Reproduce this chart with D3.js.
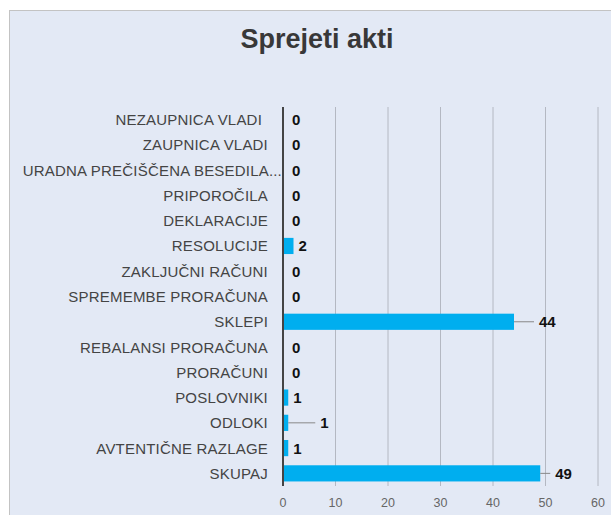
<!DOCTYPE html>
<html>
<head>
<meta charset="utf-8">
<script src="https://cdn.jsdelivr.net/npm/d3@7"></script>
<style>
  body { margin: 0; background: #fff; }
  svg { display: block; font-family: Arial, "Liberation Sans", sans-serif; }
</style>
</head>
<body>
<div id="root"></div>
<script>
// DATA
const categories = ["NEZAUPNICA VLADI", "ZAUPNICA VLADI", "URADNA PREČIŠČENA BESEDILA...",
  "PRIPOROČILA", "DEKLARACIJE", "RESOLUCIJE", "ZAKLJUČNI RAČUNI", "SPREMEMBE PRORAČUNA",
  "SKLEPI", "REBALANSI PRORAČUNA", "PRORAČUNI", "POSLOVNIKI", "ODLOKI", "AVTENTIČNE RAZLAGE", "SKUPAJ"];
const values = [0, 0, 0, 0, 0, 2, 0, 0, 44, 0, 0, 1, 1, 1, 49];
// label leader lines (length in px) for a few rows, like the original
const connectors = [0, 0, 0, 0, 0, 0, 0, 0, 20, 0, 0, 0, 27, 0, 10];
const xTicks = [0, 10, 20, 30, 40, 50, 60];

const W = 611, H = 515;
const plotL = 283, plotR = 598, plotT = 107, plotB = 486;

let rows = categories.map((c, i) => ({ cat: c, val: values[i], conn: connectors[i] }));

const svg = d3.select('#root').append('svg')
  .attr('width', W).attr('height', H);

// panel
svg.append('rect')
  .attr('x', 9.5).attr('y', 10.5)
  .attr('width', W).attr('height', H)
  .attr('fill', '#e3e9f5')
  .attr('stroke', '#c3c3c3');

svg.append('text')
  .attr('x', 317).attr('y', 48)
  .attr('text-anchor', 'middle')
  .style('font-size', '27px').style('font-weight', 'bold')
  .style('fill', '#383838')
  .text('Sprejeti akti');

let x = d3.scaleLinear().domain([0, 60]).range([plotL, plotR]);
let y = d3.scaleBand().domain(categories).range([plotT, plotB]).paddingInner(0.36).paddingOuter(0.18);
let mid = d => y(d.cat) + y.bandwidth() / 2;

// grid
svg.append('g').selectAll('line')
  .data(xTicks.slice(1))
  .enter().append('line')
  .attr('x1', d => x(d)).attr('x2', d => x(d))
  .attr('y1', plotT).attr('y2', plotB)
  .attr('stroke', '#b4b8c2').attr('stroke-width', 1);

// x axis labels
svg.append('g').selectAll('text')
  .data(xTicks)
  .enter().append('text')
  .attr('x', d => x(d)).attr('y', 507)
  .attr('text-anchor', 'middle')
  .style('font-size', '12.5px').style('fill', '#666')
  .text(d => d);

// bars
svg.append('g').selectAll('rect')
  .data(rows)
  .enter().append('rect')
  .attr('x', x(0))
  .attr('y', d => y(d.cat))
  .attr('width', d => x(d.val) - x(0))
  .attr('height', y.bandwidth())
  .attr('fill', '#00aeef');

// connectors
svg.append('g').selectAll('line')
  .data(rows.filter(d => d.conn > 0))
  .enter().append('line')
  .attr('x1', d => x(d.val))
  .attr('x2', d => x(d.val) + d.conn)
  .attr('y1', mid).attr('y2', mid)
  .attr('stroke', '#888');

// value labels
svg.append('g').selectAll('text')
  .data(rows)
  .enter().append('text')
  .attr('x', d => x(d.val) + d.conn + (d.val === 0 ? 9 : 5))
  .attr('y', d => mid(d) + 5.5)
  .style('font-size', '15px').style('font-weight', 'bold')
  .style('fill', '#111')
  .text(d => d.val);

// category labels (first one carries a trailing blank in the original)
svg.append('g').selectAll('text')
  .data(categories)
  .enter().append('text')
  .attr('x', (d, i) => d.endsWith('...') ? 282 : (i === 0 ? 262 : 268))
  .attr('y', d => y(d) + y.bandwidth() / 2 + 5.5)
  .attr('text-anchor', 'end')
  .style('font-size', '15px').style('letter-spacing', '0.2px').style('fill', '#444')
  .text(d => d);

// y axis line
svg.append('line')
  .attr('x1', plotL).attr('x2', plotL)
  .attr('y1', plotT).attr('y2', plotB)
  .attr('stroke', '#444').attr('stroke-width', 2);
</script>
</body>
</html>
